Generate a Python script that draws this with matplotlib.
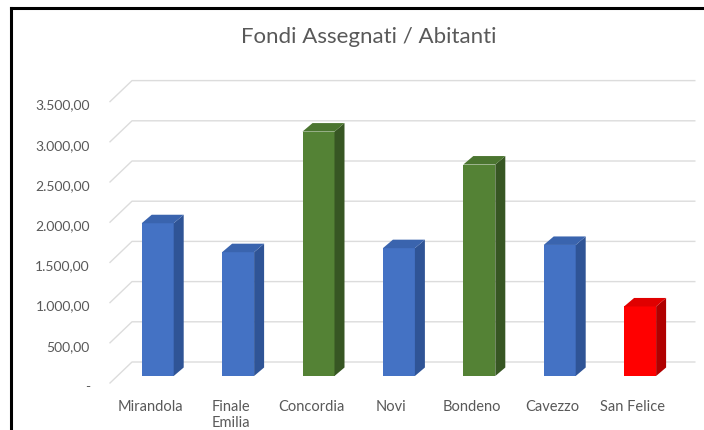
import matplotlib
matplotlib.use("Agg")
import matplotlib.pyplot as plt
from matplotlib.patches import Polygon
from matplotlib.transforms import ScaledTranslation
import numpy as np

# data
comuni = ["Mirandola", "Finale\nEmilia", "Concordia", "Novi", "Bondeno", "Cavezzo", "San Felice"]
fondi_abitanti = [1900, 1540, 3040, 1590, 2630, 1630, 865]
gruppo = ["blu", "blu", "verde", "blu", "verde", "blu", "rosso"]
yticks = [0, 500, 1000, 1500, 2000, 2500, 3000, 3500]
ytick_labels = ["-", "500,00", "1.000,00", "1.500,00", "2.000,00", "2.500,00", "3.000,00", "3.500,00"]
title = "Fondi Assegnati / Abitanti"

# face colours: front, side, top
COL = {"blu": ("#4472C4", "#2F5496", "#3A64AE"),
       "verde": ("#548235", "#375623", "#4B7530"),
       "rosso": ("#FF0000", "#B00000", "#E00000")}
GREY = "#595959"

W, H = 704, 430
CAT_PX = 80.4      # px per category
VAL_PX = 0.0804    # px per unit of value
X0, Y0 = 110, 383  # front-left floor corner (px, from top)


def dpx(px, py):
    # pixel offset -> data offset
    return px / CAT_PX, py / VAL_PX


fig = plt.figure(figsize=(W / 100, H / 100), dpi=100)
fig.patch.set_facecolor("white")
ax = fig.add_axes([X0 / W, (H - Y0) / H, 7 * CAT_PX / W, 3500 * VAL_PX / H])
ax.set_xlim(-0.5, 6.5)
ax.set_ylim(0, 3500)
for s in ax.spines.values():
    s.set_visible(False)
ax.patch.set_alpha(0)

# back wall + side wall gridlines
wx, wy = dpx(22, 21)
for v in yticks:
    ax.plot([-0.5, -0.5 + wx, 6.5 + wx], [v, v + wy, v + wy],
            color="#dcdcdc", lw=1.0, clip_on=False, zorder=1)

# 3d columns
bx, by = dpx(7.5, 7)
ddx, ddy = dpx(10, 8.5)
bw = 32 / CAT_PX
x = np.arange(len(comuni))
fronts = [COL[g][0] for g in gruppo]
ax.bar(x + bx, fondi_abitanti, width=bw, bottom=by, color=fronts,
       clip_on=False, zorder=3)
for xi, v, g in zip(x, fondi_abitanti, gruppo):
    xl, xr = xi + bx - bw / 2, xi + bx + bw / 2
    top = by + v
    side = Polygon([(xr, by), (xr + ddx, by + ddy), (xr + ddx, top + ddy), (xr, top)],
                   closed=True, fc=COL[g][1], ec="none", clip_on=False, zorder=3)
    cap = Polygon([(xl, top), (xr, top), (xr + ddx, top + ddy), (xl + ddx, top + ddy)],
                  closed=True, fc=COL[g][2], ec="none", clip_on=False, zorder=3)
    ax.add_patch(side)
    ax.add_patch(cap)

# axis labels
ax.set_yticks(yticks)
ax.set_yticklabels(ytick_labels, fontsize=10, color=GREY, family="Lato")
ax.set_xticks(x)
ax.set_xticklabels(comuni, fontsize=10.5, color=GREY, family="Lato", linespacing=1.2)
ax.tick_params(axis="y", length=0, pad=14.5)
ax.tick_params(axis="x", length=0, pad=12)
shift = ScaledTranslation(0, -3 / 100, fig.dpi_scale_trans)
for lab in ax.get_yticklabels():
    lab.set_transform(lab.get_transform() + shift)

fig.text(368.5 / W, 1 - 37 / H, title, ha="center", va="center",
         fontsize=16, color=GREY, family="Lato")

# chart frame (left and top edges visible)
fig.add_artist(plt.Line2D([11 / W, 11 / W], [0, 1 - 8 / H], color="black", lw=2.2))
fig.add_artist(plt.Line2D([11 / W, 1], [1 - 8 / H, 1 - 8 / H], color="black", lw=2.2))

fig.savefig("out.png", dpi=100)
